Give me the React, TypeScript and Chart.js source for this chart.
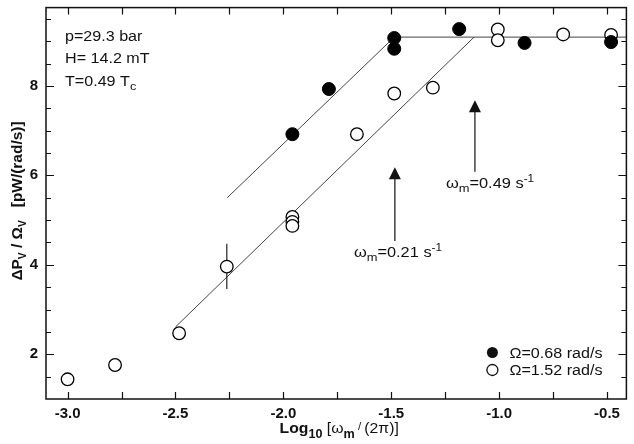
import React, { useEffect, useRef } from "react";
import { Chart, registerables } from "chart.js";

Chart.register(...registerables);

// ---- data ----
const filledX = [-1.958, -1.789, -1.486, -1.486, -1.185, -0.882, -0.481];
const filledY = [6.92, 7.93, 9.07, 8.83, 9.27, 8.96, 8.98];

const openX = [-3.0, -2.78, -2.483, -2.262, -1.958, -1.958, -1.958, -1.659, -1.486, -1.307, -1.006, -1.006, -0.703, -0.481];
const openY = [1.44, 1.76, 2.47, 3.96, 5.07, 4.96, 4.87, 6.92, 7.83, 7.96, 9.26, 9.02, 9.15, 9.14];

// fit lines
const fitFilledX = [-2.26, -1.486, -0.41];
const fitFilledY = [5.5, 9.09, 9.09];
const fitOpenX = [-2.5, -1.116];
const fitOpenY = [2.61, 9.09];

// error bar on the open point at log = -2.262
const errX = [-2.262, -2.262];
const errY = [3.46, 4.47];

// arrows: x, tail y, tip y
const arrowX = [-1.483, -1.112];
const arrowTail = [4.53, 6.08];
const arrowTip = [6.18, 7.68];
const arrowLabelValue = ["0.21", "0.49"];

// axes
const xMin = -3.1, xMax = -0.41;
const yMin = 1.0, yMax = 9.75;
const xTickLabels = [-3.0, -2.5, -2.0, -1.5, -1.0, -0.5];
const xMinorTicks = [-3.0, -2.75, -2.5, -2.25, -2.0, -1.75, -1.5, -1.25, -1.0, -0.75, -0.5];
const yTickLabels = [2, 4, 6, 8];
const yMinorTicks = [1.5, 2, 2.5, 3, 3.5, 4, 4.5, 5, 5.5, 6, 6.5, 7, 7.5, 8, 8.5, 9, 9.5];

const legendLabels = ["Ω=0.68 rad/s", "Ω=1.52 rad/s"];
const infoLines = ["p=29.3 bar", "H= 14.2 mT", "T=0.49 T"];

const FAM = '"Liberation Sans", Arial, Helvetica, sans-serif';
const INK = "#111";

type Run = { t: string; f: string; dy?: number };

function drawRuns(ctx: CanvasRenderingContext2D, runs: Run[], x: number, y: number, align: "left" | "center", sx = 1) {
  ctx.save();
  ctx.translate(x, y);
  ctx.scale(sx, 1);
  ctx.textBaseline = "alphabetic";
  ctx.textAlign = "left";
  let total = 0;
  const ws = runs.map((r) => {
    ctx.font = r.f;
    const w = ctx.measureText(r.t).width;
    total += w;
    return w;
  });
  let cx = align === "center" ? -total / 2 : 0;
  runs.forEach((r, i) => {
    ctx.font = r.f;
    ctx.fillText(r.t, cx, r.dy || 0);
    cx += ws[i];
  });
  ctx.restore();
}

const decorPlugin = {
  id: "decor",
  afterDraw(chart: any) {
    const ctx: CanvasRenderingContext2D = chart.ctx;
    const { left, right, top, bottom } = chart.chartArea;
    const xs = chart.scales.x;
    const ys = chart.scales.y;
    ctx.save();
    ctx.strokeStyle = INK;
    ctx.fillStyle = INK;

    // frame
    ctx.lineWidth = 1.5;
    ctx.strokeRect(left, top, right - left, bottom - top);

    // inward ticks
    ctx.lineWidth = 1.2;
    ctx.beginPath();
    xMinorTicks.forEach((v) => {
      const px = Math.round(xs.getPixelForValue(v)) + 0.5;
      ctx.moveTo(px, bottom);
      ctx.lineTo(px, bottom - 7);
      ctx.moveTo(px, top);
      ctx.lineTo(px, top + 7);
    });
    yMinorTicks.forEach((v) => {
      const py = Math.round(ys.getPixelForValue(v)) + 0.5;
      const len = yTickLabels.includes(v) ? 8 : 5;
      ctx.moveTo(left, py);
      ctx.lineTo(left + len, py);
      ctx.moveTo(right, py);
      ctx.lineTo(right - len, py);
    });
    ctx.stroke();

    // arrows
    ctx.lineWidth = 1.2;
    arrowX.forEach((v, i) => {
      const px = xs.getPixelForValue(v);
      const tail = ys.getPixelForValue(arrowTail[i]);
      const tip = ys.getPixelForValue(arrowTip[i]);
      ctx.beginPath();
      ctx.moveTo(px, tail);
      ctx.lineTo(px, tip + 10);
      ctx.stroke();
      ctx.beginPath();
      ctx.moveTo(px, tip);
      ctx.lineTo(px - 6, tip + 12);
      ctx.lineTo(px + 6, tip + 12);
      ctx.closePath();
      ctx.fill();
      const offs = i === 0 ? -41 : -29;
      drawRuns(
        ctx,
        [
          { t: "ω", f: `14px ${FAM}` },
          { t: "m", f: `11px ${FAM}`, dy: 4 },
          { t: "=" + arrowLabelValue[i] + " s", f: `14px ${FAM}` },
          { t: "-1", f: `10px ${FAM}`, dy: -6 },
        ],
        px + offs,
        tail + 16,
        "left",
        1.17
      );
    });

    // info text
    infoLines.forEach((s, i) => {
      const runs: Run[] = [{ t: s, f: `14px ${FAM}` }];
      if (i === 2) runs.push({ t: "c", f: `11px ${FAM}`, dy: 4 });
      drawRuns(ctx, runs, left + 19, top + 33 + i * 22.5, "left", 1.15);
    });

    // legend
    const lx = right - 134;
    legendLabels.forEach((s, i) => {
      const cy = bottom - 46.5 + i * 17.5;
      ctx.beginPath();
      ctx.arc(lx, cy, 5.5, 0, Math.PI * 2);
      if (i === 0) {
        ctx.fill();
      } else {
        ctx.fillStyle = "#fff";
        ctx.fill();
        ctx.fillStyle = INK;
        ctx.lineWidth = 1.3;
        ctx.stroke();
      }
      drawRuns(ctx, [{ t: s, f: `14px ${FAM}` }], lx + 17, cy + 5, "left", 1.15);
    });

    // x title
    drawRuns(
      ctx,
      [
        { t: "Log", f: `bold 15px ${FAM}` },
        { t: "10", f: `bold 12px ${FAM}`, dy: 5 },
        { t: " [ω", f: `15px ${FAM}` },
        { t: "m", f: `bold 12px ${FAM}`, dy: 5 },
        { t: " / ", f: `11px ${FAM}`, dy: -3 },
        { t: "(2π)]", f: `15px ${FAM}` },
      ],
      (left + right) / 2 + 3,
      433,
      "center",
      1.05
    );

    // y title
    ctx.save();
    ctx.translate(22, 201);
    ctx.rotate(-Math.PI / 2);
    drawRuns(
      ctx,
      [
        { t: "ΔP", f: `bold 15px ${FAM}` },
        { t: "V", f: `bold 10px ${FAM}`, dy: 4 },
        { t: " / Ω", f: `bold 15px ${FAM}` },
        { t: "V", f: `bold 10px ${FAM}`, dy: 4 },
        { t: "   [pW/(rad/s)]", f: `bold 15px ${FAM}` },
      ],
      0,
      0,
      "center",
      1.03
    );
    ctx.restore();

    ctx.restore();
  },
};

export default function App() {
  const ref = useRef<HTMLCanvasElement | null>(null);
  useEffect(() => {
    const canvas = ref.current!;
    const pts = (xs: number[], ys: number[]) => xs.map((x, i) => ({ x, y: ys[i] }));
    const chart = new Chart(canvas, {
      type: "scatter",
      data: {
        datasets: [
          {
            label: legendLabels[0],
            data: pts(filledX, filledY),
            pointRadius: 6.5,
            pointBackgroundColor: "#000",
            pointBorderColor: "#000",
            pointBorderWidth: 1,
            order: 0,
          },
          {
            label: legendLabels[1],
            data: pts(openX, openY),
            pointRadius: 6.3,
            pointBackgroundColor: "#fff",
            pointBorderColor: "#000",
            pointBorderWidth: 1.3,
            order: 1,
          },
          {
            label: "fit filled",
            data: pts(fitFilledX, fitFilledY),
            showLine: true,
            pointRadius: 0,
            borderColor: "#444",
            borderWidth: 1,
            order: 5,
          },
          {
            label: "fit open",
            data: pts(fitOpenX, fitOpenY),
            showLine: true,
            pointRadius: 0,
            borderColor: "#444",
            borderWidth: 1,
            order: 5,
          },
          {
            label: "error",
            data: pts(errX, errY),
            showLine: true,
            pointRadius: 0,
            borderColor: "#222",
            borderWidth: 1.2,
            order: 4,
          },
        ],
      },
      options: {
        responsive: false,
        animation: false,
        devicePixelRatio: 1,
        layout: { padding: { top: 6, right: 2, left: 0, bottom: 0 } },
        plugins: { legend: { display: false }, tooltip: { enabled: false }, title: { display: false } },
        scales: {
          x: {
            type: "linear",
            min: xMin,
            max: xMax,
            grid: { display: false, drawTicks: false },
            border: { display: false },
            ticks: {
              autoSkip: false,
              maxRotation: 0,
              padding: 6,
              color: INK,
              font: { family: FAM, size: 15, weight: "bold" },
              callback: (v: any) => Number(v).toFixed(1),
            },
            afterBuildTicks: (s: any) => {
              s.ticks = xTickLabels.map((v) => ({ value: v }));
            },
            afterFit: (s: any) => {
              s.height = 45;
              s.paddingLeft = 0;
              s.paddingRight = 0;
            },
          },
          y: {
            type: "linear",
            min: yMin,
            max: yMax,
            grid: { display: false, drawTicks: false },
            border: { display: false },
            ticks: {
              autoSkip: false,
              padding: 8,
              color: INK,
              font: { family: FAM, size: 15, weight: "bold" },
              callback: (v: any) => String(v),
            },
            afterBuildTicks: (s: any) => {
              s.ticks = yTickLabels.map((v) => ({ value: v }));
            },
            afterFit: (s: any) => {
              s.width = 46;
              s.paddingTop = 0;
              s.paddingBottom = 0;
            },
          },
        },
      },
      plugins: [decorPlugin],
    } as any);
    return () => chart.destroy();
  }, []);
  return (
    <div style={{ position: "absolute", left: 0, top: 0, width: 634, height: 444, background: "#fff" }}>
      <canvas ref={ref} width={634} height={444} />
    </div>
  );
}
